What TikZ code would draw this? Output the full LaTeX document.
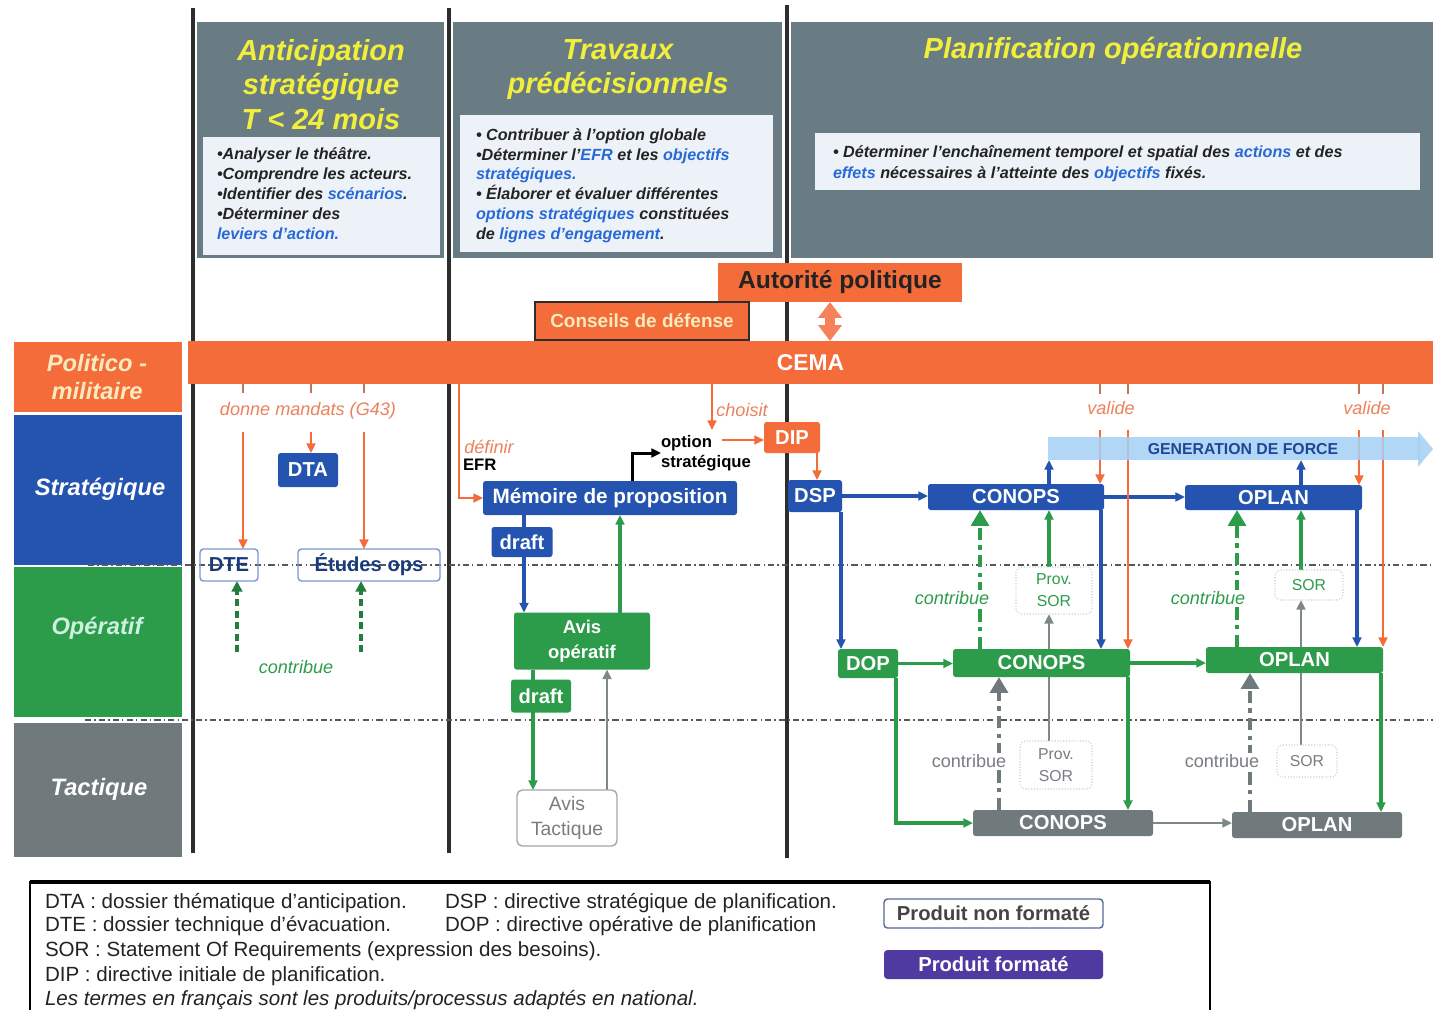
\documentclass[tikz,border=0pt]{standalone}
\usepackage{fontspec}
\setmainfont{Liberation Sans}
\usetikzlibrary{arrows.meta,calc}
\newcommand\myfs[2]{\fontsize{#1}{#2}\selectfont}
\def\upx{0.02cm}
\definecolor{orangeC}{RGB}{243,108,58}
\definecolor{blueC}{RGB}{37,84,176}
\definecolor{greenC}{RGB}{44,156,74}
\definecolor{grayT}{RGB}{112,122,124}
\definecolor{panelC}{RGB}{106,124,131}
\definecolor{boxW}{RGB}{236,242,248}
\definecolor{yelC}{RGB}{242,238,60}
\definecolor{linkC}{RGB}{40,105,215}
\definecolor{bandC}{RGB}{165,208,245}
\definecolor{purpC}{RGB}{78,58,160}
\definecolor{sepC}{RGB}{45,45,45}
\definecolor{orLab}{RGB}{235,130,90}
\definecolor{polText}{RGB}{250,235,190}
\definecolor{opText}{RGB}{205,240,225}
\definecolor{darkT}{RGB}{35,35,35}
\definecolor{sorBorder}{RGB}{200,205,210}
\definecolor{tacText}{RGB}{120,125,130}
\pgfdeclarelayer{back}
\pgfdeclarelayer{links}
\pgfsetlayers{back,links,main}
\tikzset{
 sepline/.style={draw=sepC, line width=1.8pt},
 ddline/.style={draw=sepC!80, line width=0.6pt, dash pattern=on 3.5pt off 1.8pt on 0.8pt off 1.8pt},
 ttl/.style={anchor=base, text=yelC, font=\bfseries\itshape\myfs{16.5}{18}},
 ptxt/.style={anchor=base west, text=darkT, font=\bfseries\itshape\myfs{9.2}{10}},
 lanetxt/.style={font=\bfseries\itshape\myfs{13.5}{15.9}, align=center},
 mybox/.style={rectangle, rounded corners=1.5pt, align=center, text=white, font=\bfseries\myfs{11.5}{13}},
 bbox/.style={mybox, fill=blueC},
 gbox/.style={mybox, fill=greenC},
 tbox/.style={mybox, fill=grayT},
 obox/.style={mybox, fill=orangeC},
 wbox/.style={rectangle, rounded corners=2pt, draw=blueC!60, line width=0.8pt, text=blueC!70!black, font=\bfseries\myfs{11.5}{13}},
 sorbox/.style={rectangle, rounded corners=3pt, draw=sorBorder, densely dotted, line width=0.6pt, fill=white, align=center, font=\myfs{9}{12.5}},
 lbl/.style={font=\itshape\myfs{10.3}{12}, fill=white, inner sep=1pt},
 mytip/.style={-{Triangle[length=5.5pt,width=5pt]}},
 oarr/.style={mytip, draw=orangeC, line width=1.2pt},
 otick/.style={draw=orangeC!60!gray, line width=1.2pt},
 barr/.style={mytip, draw=blueC, line width=1.8pt},
 garr/.style={mytip, draw=greenC, line width=1.8pt},
 grarr/.style={mytip, draw=grayT!90, line width=1.4pt},
 contribG/.style={-{Triangle[length=9pt,width=10pt]}, draw=greenC, line width=2.8pt, dash pattern=on 7pt off 3pt on 2.5pt off 3pt},
 contribT/.style={-{Triangle[length=9pt,width=10pt]}, draw=grayT, line width=2.8pt, dash pattern=on 7pt off 3pt on 2.5pt off 3pt},
 contribS/.style={-{Triangle[length=6pt,width=6pt]}, draw=greenC!80!black, line width=1.8pt, dash pattern=on 4pt off 2.5pt},
 legtxt/.style={anchor=base west, font=\myfs{11.7}{13}, text=darkT},
}
\begin{document}
\begin{tikzpicture}[x=0.02cm,y=-0.02cm, every node/.style={inner sep=0pt, outer sep=0pt}]
\useasboundingbox (0,0) rectangle (1433,1009);
\begin{pgfonlayer}{back}
\fill[white] (0,0) rectangle (1433,1009);
% separators
\draw[sepline] (193,8) -- (193,853);
\draw[sepline] (449,8) -- (449,853);
\draw[sepline] (787,5) -- (787,858);
% header panels
\fill[panelC] (197,22) rectangle (444,258);
\fill[panelC] (453,22) rectangle (782,258);
\fill[panelC] (791,22) rectangle (1433,258);
\fill[boxW] (203,137) rectangle (440,255);
\fill[boxW] (460,115) rectangle (773,252);
\fill[boxW] (815,133) rectangle (1420,190);
% lanes
\fill[orangeC] (14,342) rectangle (182,412);
\fill[blueC] (14,415) rectangle (182,565);
\fill[greenC] (14,567) rectangle (182,717);
\fill[grayT] (14,723) rectangle (182,857);
\draw[ddline] (88,565) -- (1433,565);
\draw[ddline] (85,720) -- (1433,720);
% legend frame
\draw[line width=1.3pt] (30,882) rectangle (1210,1030);
\draw[line width=2.2pt] (30,882) -- (1210,882);
\end{pgfonlayer}

% titles
\node[ttl] (t1a) at (321,60) {Anticipation};
\node[ttl] (t1b) at (321,94) {stratégique};
\node[ttl] (t1c) at (321,129) {T < 24 mois};
\node[ttl] (t2a) at (618,59) {Travaux};
\node[ttl] (t2b) at (618,93) {prédécisionnels};
\node[ttl] (t3) at (1113,58) {Planification opérationnelle};
% panel texts
\node[ptxt] (p1a) at (217,159) {•Analyser le théâtre.};
\node[ptxt] (p1b) at (217,179) {•Comprendre les acteurs.};
\node[ptxt] (p1c) at (217,199) {•Identifier des \textcolor{linkC}{scénarios}.};
\node[ptxt] (p1d) at (217,219) {•Déterminer des};
\node[ptxt] (p1e) at (217,239) {\textcolor{linkC}{leviers d’action.}};
\node[ptxt] (p2a) at (476,140) {• Contribuer à l’option globale};
\node[ptxt] (p2b) at (476,160) {•Déterminer l’\textcolor{linkC}{EFR} et les \textcolor{linkC}{objectifs}};
\node[ptxt] (p2c) at (476,179) {\textcolor{linkC}{stratégiques.}};
\node[ptxt] (p2d) at (476,199) {• Élaborer et évaluer différentes};
\node[ptxt] (p2e) at (476,219) {\textcolor{linkC}{options stratégiques} constituées};
\node[ptxt] (p2f) at (476,239) {de \textcolor{linkC}{lignes d’engagement}.};
\node[ptxt] (p3a) at (833,157) {• Déterminer l’enchaînement temporel et spatial des \textcolor{linkC}{actions} et des};
\node[ptxt] (p3b) at (833,178) {\textcolor{linkC}{effets} nécessaires à l’atteinte des \textcolor{linkC}{objectifs} fixés.};
% lane labels
\node[lanetxt, text=polText] (lpol) at (97,377) {Politico -\\militaire};
\node[lanetxt, text=white] (lstr) at (100,489) {Stratégique};
\node[lanetxt, text=opText] (lop) at (97,628) {Opératif};
\node[lanetxt, text=white] (ltac) at (99,789) {Tactique};

% political
\node[obox, text=darkT, font=\bfseries\myfs{14}{16}, minimum width=244*\upx, minimum height=39*\upx, rounded corners=0pt] (auth) at (840,282.5) {Autorité politique};
\node[obox, draw=sepC, line width=0.8pt, text=polText, font=\bfseries\myfs{10.8}{12}, minimum width=214*\upx, minimum height=38*\upx, rounded corners=0pt] (cons) at (642,321) {Conseils de défense};
\node[obox, font=\bfseries\myfs{13}{14}, minimum width=1245*\upx, minimum height=43*\upx, rounded corners=0pt] (cema) at (810.5,362.5) {CEMA};

% left column
\node[bbox, minimum width=60*\upx, minimum height=34*\upx] (dta) at (308,470) {DTA};
\node[wbox, minimum width=58*\upx, minimum height=32*\upx] (dte) at (229,565) {DTE};
\node[wbox, minimum width=142*\upx, minimum height=32*\upx] (etu) at (369,565) {Études ops};
\node[lbl, text=orLab, fill=none] (mand) at (308,411) {donne mandats (G43)};
\node[lbl, text=greenC] (contL) at (296,667) {contribue};

% middle column
\node[bbox, minimum width=254*\upx, minimum height=34*\upx, font=\bfseries\myfs{11.8}{13}] (mem) at (610,498) {Mémoire de proposition};
\node[bbox, minimum width=61*\upx, minimum height=30*\upx] (dr1) at (522,542) {draft};
\node[gbox, minimum width=136*\upx, minimum height=57*\upx, font=\bfseries\myfs{10.5}{14}] (aop) at (582,641) {Avis\\opératif};
\node[gbox, minimum width=60*\upx, minimum height=33*\upx] (dr2) at (541,696) {draft};
\node[rectangle, rounded corners=3pt, draw=gray!70, line width=0.8pt, minimum width=100*\upx, minimum height=56*\upx, align=center, text=tacText, font=\myfs{11}{14.5}] (atac) at (567,818) {Avis\\Tactique};
\node[obox, minimum width=56*\upx, minimum height=31*\upx] (dip) at (792,437.5) {DIP};
\node[bbox, minimum width=54*\upx, minimum height=32*\upx] (dsp) at (815,496) {DSP};
\node[lbl, text=orLab] (defl) at (489,447) {définir};
\node[font=\bfseries\myfs{9.5}{11}, anchor=west] (efr) at (463,465) {EFR};
\node[font=\bfseries\myfs{9.5}{11.3}, align=left, anchor=west] (opt) at (661,453) {option\\stratégique};
\node[lbl, text=orLab, fill=none] (chl) at (742,410) {choisit};

% right column
\node[bbox, minimum width=176*\upx, minimum height=26*\upx] (cs) at (1016,497) {CONOPS};
\node[bbox, minimum width=177*\upx, minimum height=25*\upx] (os) at (1273.5,497.5) {OPLAN};
\node[gbox, minimum width=60*\upx, minimum height=29*\upx] (dop) at (868,663.5) {DOP};
\node[gbox, minimum width=177*\upx, minimum height=28*\upx] (co) at (1041.5,663) {CONOPS};
\node[gbox, minimum width=177*\upx, minimum height=26*\upx] (oo) at (1294.5,660) {OPLAN};
\node[tbox, minimum width=180*\upx, minimum height=26*\upx] (ct) at (1063,823) {CONOPS};
\node[tbox, minimum width=170*\upx, minimum height=26*\upx] (ot) at (1317,825) {OPLAN};
\node[sorbox, text=greenC, minimum width=76*\upx, minimum height=47*\upx] (ps1) at (1054,590.5) {Prov.\\SOR};
\node[sorbox, text=greenC, minimum width=68*\upx, minimum height=30*\upx] (s1) at (1309,585) {SOR};
\node[sorbox, text=tacText, minimum width=72*\upx, minimum height=48*\upx] (ps2) at (1056,765) {Prov.\\SOR};
\node[sorbox, text=tacText, minimum width=60*\upx, minimum height=32*\upx] (s2) at (1307,761) {SOR};
\node[lbl, text=greenC] (cg1) at (952,598) {contribue};
\node[lbl, text=greenC] (cg2) at (1208,598) {contribue};
\node[lbl, text=tacText, font=\myfs{10.3}{12}] (ct1) at (969,761) {contribue};
\node[lbl, text=tacText, font=\myfs{10.3}{12}] (ct2) at (1222,761) {contribue};
\node[lbl, text=orLab] (val1) at (1111,408) {valide};
\node[lbl, text=orLab] (val2) at (1367,408) {valide};
% generation de force band
\node[fill=bandC, fill opacity=0.85, minimum width=372*\upx, minimum height=23*\upx] (band) at (1234,448.5) {};
\fill[bandC, opacity=0.85] (1418,431) -- (1433,449) -- (1418,467) -- cycle;
\node[text=blueC!85!black, font=\bfseries\myfs{9}{10}] (gen) at (1243,449) {GENERATION DE FORCE};

% legend
\node[legtxt] (lg1) at (45,908) {DTA : dossier thématique d’anticipation.};
\node[legtxt] (lg2) at (445,908) {DSP : directive stratégique de planification.};
\node[legtxt] (lg3) at (45,931) {DTE : dossier technique d’évacuation.};
\node[legtxt] (lg4) at (445,931) {DOP : directive opérative de planification};
\node[legtxt] (lg5) at (45,956) {SOR : Statement Of Requirements (expression des besoins).};
\node[legtxt] (lg6) at (45,981) {DIP : directive initiale de planification.};
\node[legtxt, font=\itshape\myfs{11.7}{13}] (lg7) at (45,1005) {Les termes en français sont les produits/processus adaptés en national.};
\node[rectangle, rounded corners=2pt, draw=blueC!50!gray, line width=0.8pt, minimum width=219*\upx, minimum height=29*\upx, font=\bfseries\myfs{11.5}{13}, text=darkT!85] (pnf) at (993.5,913.5) {Produit non formaté};
\node[rectangle, rounded corners=2pt, fill=purpC, minimum width=219*\upx, minimum height=29*\upx, font=\bfseries\myfs{11.5}{13}, text=white] (pf) at (993.5,964.5) {Produit formaté};

% column coordinates
\coordinate (x243) at (243,0); \coordinate (x311) at (311,0); \coordinate (x364) at (364,0);
\coordinate (oL1) at (243,432); \coordinate (oL2) at (311,432); \coordinate (oL3) at (364,432);
\coordinate (gL1) at (237,652); \coordinate (gL2) at (361,652);
\coordinate (oM1) at (459,0); \coordinate (cM) at (712,430); \coordinate (optE) at (722,440);
\coordinate (xDIP) at (817,0); \coordinate (xOpt) at (632,0);
\coordinate (xD1) at (524,0); \coordinate (xAO) at (620,0); \coordinate (xD2) at (533,0); \coordinate (xAT) at (607,0);
\coordinate (xDSP) at (841,0); \coordinate (xCS) at (1101,0); \coordinate (xOS) at (1357,0);
\coordinate (xG1) at (1049,0); \coordinate (xG2) at (1301,0);
\coordinate (xV1) at (1100,0); \coordinate (xV2) at (1128,0); \coordinate (xV3) at (1359,0); \coordinate (xV4) at (1383,0);
\coordinate (v1) at (1100,430); \coordinate (v2) at (1128,430); \coordinate (v3) at (1359,430); \coordinate (v4) at (1383,430);
\coordinate (xDOP) at (896,0); \coordinate (xCO) at (1128,0); \coordinate (xOO) at (1381,0);
\coordinate (xC1) at (980,0); \coordinate (xC2) at (1237,0); \coordinate (xT1) at (999,0); \coordinate (xT2) at (1250,0);
\coordinate (x830) at (830,0);

\begin{pgfonlayer}{links}
% authority double arrow
\draw[draw=orangeC!85, line width=6pt, {Triangle[length=9pt,width=13pt]}-{Triangle[length=9pt,width=13pt]}] (auth.south -| x830) -- (cema.north -| x830);
% left column
\draw[otick] (cema.south -| x243) -- ++(0,9);
\draw[otick] (cema.south -| x311) -- ++(0,9);
\draw[otick] (cema.south -| x364) -- ++(0,9);
\draw[oarr] (oL1) -- (oL1 |- dte.north);
\draw[oarr] (oL2) -- (oL2 |- dta.north);
\draw[oarr] (oL3) -- (oL3 |- etu.north);
\draw[contribS] (gL1) -- (gL1 |- dte.south);
\draw[contribS] (gL2) -- (gL2 |- etu.south);
% middle column
\draw[oarr] (cema.south -| oM1) |- (mem.west);
\draw[oarr] (cema.south -| cM) -- (cM);
\draw[oarr] (optE) -- (optE -| dip.west);
\draw[oarr] (dip.south -| xDIP) -- (dsp.north -| xDIP);
\draw[draw=black, line width=1.7pt, mytip] (mem.north -| xOpt) |- (opt.west);
\draw[barr] (mem.south -| xD1) -- (aop.north -| xD1);
\draw[garr] (aop.north -| xAO) -- (mem.south -| xAO);
\draw[garr] (aop.south -| xD2) -- (atac.north -| xD2);
\draw[grarr] (atac.north -| xAT) -- (aop.south -| xAT);
% right column - strategic
\draw[barr] (dsp.east) -- (dsp.east -| cs.west);
\draw[barr] (cs.east) -- (cs.east -| os.west);
\draw[barr] (dsp.south -| xDSP) -- (dop.north -| xDSP);
\draw[barr] (cs.south -| xCS) -- (co.north -| xCS);
\draw[barr] (os.south -| xOS) -- (oo.north -| xOS);
\draw[barr] (cs.north -| xG1) -- (band.south -| xG1);
\draw[barr] (os.north -| xG2) -- (band.south -| xG2);
% valide
\draw[otick] (cema.south -| xV1) -- ++(0,10);
\draw[otick] (cema.south -| xV2) -- ++(0,10);
\draw[otick] (cema.south -| xV3) -- ++(0,10);
\draw[otick] (cema.south -| xV4) -- ++(0,10);
\draw[oarr] (v1) -- (v1 |- cs.north);
\draw[oarr] (v2) -- (v2 |- co.north);
\draw[oarr] (v3) -- (v3 |- os.north);
\draw[oarr] (v4) -- (v4 |- oo.north);
% operative
\draw[garr] (dop.east) -- (dop.east -| co.west);
\draw[garr] (co.east) -- (co.east -| oo.west);
\draw[garr] (dop.south -| xDOP) |- (ct.west);
\draw[garr] (co.south -| xCO) -- (ct.north -| xCO);
\draw[garr] (oo.south -| xOO) -- (ot.north -| xOO);
\draw[garr] (ps1.north -| xG1) -- (cs.south -| xG1);
\draw[garr] (s1.north -| xG2) -- (os.south -| xG2);
\draw[contribG] (co.north -| xC1) -- (cs.south -| xC1);
\draw[contribG] (oo.north -| xC2) -- (os.south -| xC2);
% tactical
\draw[grarr] (ps2.north -| xG1) -- (ps1.south -| xG1);
\draw[grarr] (s2.north -| xG2) -- (s1.south -| xG2);
\draw[grarr] (ct.east) -- (ct.east -| ot.west);
\draw[contribT] (ct.north -| xT1) -- (co.south -| xT1);
\draw[contribT] (ot.north -| xT2) -- (oo.south -| xT2);
\end{pgfonlayer}
\end{tikzpicture}
\end{document}
